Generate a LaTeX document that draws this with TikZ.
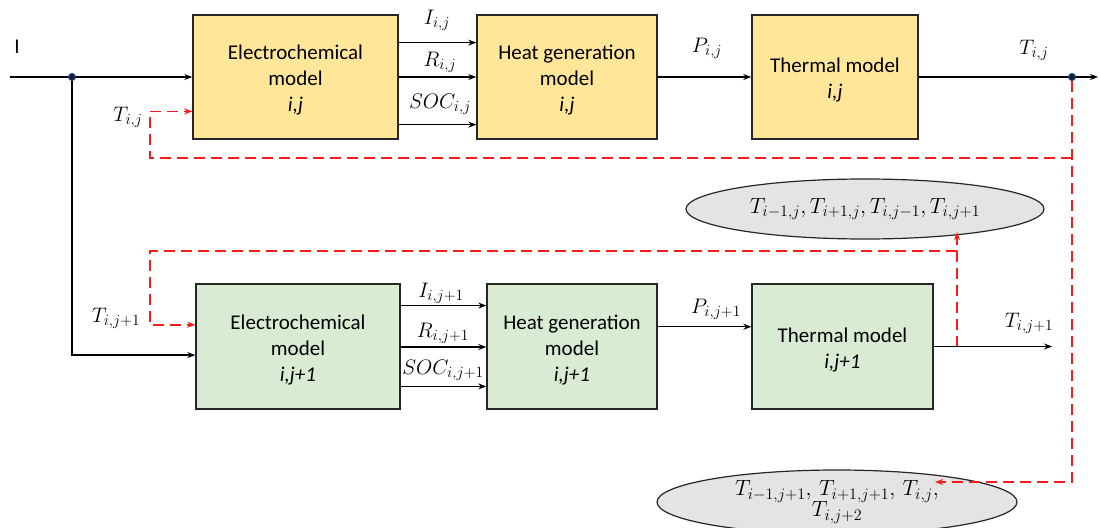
\RequirePackage{fix-cm}
\documentclass[tikz,border=0pt]{standalone}
\usepackage{fontspec}
\setmainfont{Carlito}
\usetikzlibrary{arrows.meta,calc,shapes.geometric}
\DeclareMathSizes{22}{22}{16}{12}
\DeclareMathSizes{21}{21}{15.5}{11.5}
\definecolor{boxyellow}{HTML}{FFE699}
\definecolor{boxgreen}{HTML}{DAEBD4}
\definecolor{ovalgray}{HTML}{E4E4E4}
\definecolor{edgegray}{HTML}{262626}
\definecolor{dotfill}{HTML}{0D1B3E}
\definecolor{dotrim}{HTML}{2F5597}
\definecolor{fbred}{HTML}{FF1A1A}
\newcommand{\strutup}{\rule{0pt}{21pt}}
\begin{document}
\begin{tikzpicture}[x=1pt,y=-1pt,
  block/.style={draw=edgegray,line width=1.4pt,align=center,inner sep=0pt,
    font=\fontsize{21}{26}\selectfont},
  yblock/.style={block,fill=boxyellow},
  gblock/.style={block,fill=boxgreen},
  oval/.style={ellipse,draw=edgegray,line width=1.2pt,fill=ovalgray,inner sep=0pt,
    align=center,font=\fontsize{22}{26}\selectfont},
  lab/.style={inner sep=0pt,font=\fontsize{21}{24}\selectfont},
  wire/.style={line width=1.2pt,black},
  arr/.style={wire,-{Stealth[length=8pt,width=6pt]}},
  fb/.style={line width=1.5pt,fbred,dash pattern=on 11pt off 6pt},
  fbarr/.style={fb,-{Stealth[length=8pt,width=6pt]}},
  junction/.style={circle,fill=dotfill,draw=dotrim,line width=0.8pt,
    minimum size=7pt,inner sep=0pt}]
\useasboundingbox (0,0) rectangle (1099,527);

% upper chain (cell i,j)
\node[yblock,minimum width=205pt,minimum height=124pt] (e1) at (295.5,77)
  {\strutup Electrochemical\\model\\\textit{i,j}};
\node[yblock,minimum width=180pt,minimum height=124pt] (h1) at (567,77)
  {\strutup Heat generation\\model\\\textit{i,j}};
\node[yblock,minimum width=166pt,minimum height=124pt] (t1) at (835,77)
  {\strutup Thermal model\\\textit{i,j}};

% lower chain (cell i,j+1)
\node[gblock,minimum width=204pt,minimum height=125pt] (e2) at (298,346.5)
  {\strutup Electrochemical\\model\\\textit{i,j+1}};
\node[gblock,minimum width=170pt,minimum height=125pt] (h2) at (572,346.5)
  {\strutup Heat generation\\model\\\textit{i,j+1}};
\node[gblock,minimum width=181pt,minimum height=125pt] (t2) at (842.5,346.5)
  {\strutup Thermal model\\\textit{i,j+1}};

% neighbour temperature sets
\node[oval,minimum width=358pt,minimum height=60pt] (q1) at (865,209)
  {$T_{i-1,j}, T_{i+1,j}, T_{i,j-1}, T_{i,j+1}$};
\node[oval,minimum width=360pt,minimum height=64pt] (q2) at (837,502)
  {$T_{i-1,j+1},\, T_{i+1,j+1},\, T_{i,j},$\\[-5pt]$T_{i,j+2}$};

% junctions and free ends
\coordinate (in) at (10,77);
\node[junction] (d1) at (72,77) {};
\node[junction] (d2) at (1072,77) {};
\coordinate (out1) at (1098,77);
\coordinate (out2) at (1052,346.5);
\coordinate (j1) at (1072,158);
\coordinate (c1) at (150,158);
\coordinate (q2tip) at (935,482);
\coordinate (j2) at (957,346.5);
\coordinate (j3) at (957,251);
\coordinate (c2) at (150,251);
\coordinate (q1tip) at (957,232);

% ports on the block edges
\coordinate (e1a) at ($(e1.north east)!0.226!(e1.south east)$);
\coordinate (e1b) at ($(e1.north east)!0.5!(e1.south east)$);
\coordinate (e1c) at ($(e1.north east)!0.88!(e1.south east)$);
\coordinate (e1fb) at ($(e1.north west)!0.774!(e1.south west)$);
\coordinate (e2a) at ($(e2.north east)!0.176!(e2.south east)$);
\coordinate (e2b) at ($(e2.north east)!0.504!(e2.south east)$);
\coordinate (e2c) at ($(e2.north east)!0.816!(e2.south east)$);
\coordinate (e2fb) at ($(e2.north west)!0.328!(e2.south west)$);
\coordinate (e2in) at ($(e2.north west)!0.568!(e2.south west)$);
\coordinate (h2p) at ($(h2.north east)!0.344!(h2.south east)$);

% feedback paths (dashed)
\draw[fbarr] (d2) |- (q2tip);
\draw[fbarr] (j1) -- (c1) |- (e1fb);
\draw[fbarr] (j2) -- (q1tip);
\draw[fbarr] (j3) -- (c2) |- (e2fb);

% signal wires
\draw[arr] (in) -- (e1.west);
\draw[arr] (d1) |- (e2in);
\draw[arr] (e1a) -- (h1.west |- e1a);
\draw[arr] (e1b) -- (h1.west |- e1b);
\draw[arr] (e1c) -- (h1.west |- e1c);
\draw[arr] (h1.east) -- (t1.west);
\draw[arr] (t1.east) -- (out1);
\draw[arr] (e2a) -- (h2.west |- e2a);
\draw[arr] (e2b) -- (h2.west |- e2b);
\draw[arr] (e2c) -- (h2.west |- e2c);
\draw[arr] (h2p) -- (t2.west |- h2p);
\draw[arr] (t2.east) -- (out2);

% junction dots on top of the wires
\node[junction] at (d1) {};
\node[junction] at (d2) {};

% signal labels
\node[lab] (lI) at (17,47) {I};
\node[lab] (lI1) at (437,20) {$I_{i,j}$};
\node[lab] (lR1) at (440,62) {$R_{i,j}$};
\node[lab] (lS1) at (440,104) {$SOC_{i,j}$};
\node[lab] (lP1) at (707,48) {$P_{i,j}$};
\node[lab] (lT1) at (1034,50) {$T_{i,j}$};
\node[lab] (lT1b) at (128,117) {$T_{i,j}$};
\node[lab] (lI2) at (441,293) {$I_{i,j+1}$};
\node[lab] (lR2) at (443,333) {$R_{i,j+1}$};
\node[lab] (lS2) at (443,370) {$SOC_{i,j+1}$};
\node[lab] (lP2) at (716,309) {$P_{i,j+1}$};
\node[lab] (lT2) at (1029,323) {$T_{i,j+1}$};
\node[lab] (lT2b) at (116,318) {$T_{i,j+1}$};
\end{tikzpicture}
\end{document}
